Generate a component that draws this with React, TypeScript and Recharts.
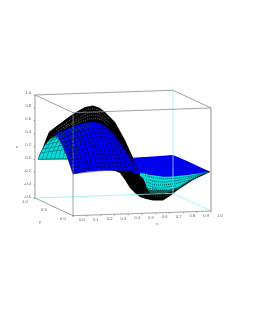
import { ComposedChart, XAxis, YAxis, Area, Line, Scatter } from "recharts";

// view of the box: x runs along the front edge, y goes back to the left
const project = (x: number, y: number, z: number) => ({
  u: 73 + 138 * x - 38 * y,
  v: 215.7 - 4.7 * x - 17.7 * y - 64.4 * (z + 0.6),
});

// near half of the peak (blue side)
const peakXs = [0, 0.03, 0.06, 0.09, 0.12, 0.15, 0.18, 0.21, 0.24, 0.27, 0.3, 0.33, 0.36, 0.39, 0.42, 0.45, 0.48];
const peakYs = [0, 0.029, 0.058, 0.087, 0.117, 0.149, 0.185, 0.221, 0.26, 0.306, 0.365, 0.5];
const peakZ = [
  [0.05, 0.055, 0.06, 0.065, 0.07, 0.075, 0.08, 0.08, 0.085, 0.085, 0.085, 0.08, 0.08, 0.075, 0.07, 0.065, 0.05],
  [0.09, 0.1, 0.107, 0.113, 0.12, 0.126, 0.133, 0.134, 0.14, 0.14, 0.14, 0.134, 0.131, 0.122, 0.111, 0.1, 0.077],
  [0.136, 0.144, 0.154, 0.161, 0.17, 0.178, 0.185, 0.189, 0.196, 0.196, 0.195, 0.187, 0.182, 0.17, 0.153, 0.134, 0.104],
  [0.18, 0.189, 0.2, 0.21, 0.22, 0.229, 0.238, 0.243, 0.251, 0.251, 0.25, 0.241, 0.233, 0.217, 0.194, 0.169, 0.131],
  [0.223, 0.233, 0.247, 0.258, 0.27, 0.28, 0.291, 0.298, 0.306, 0.306, 0.305, 0.294, 0.283, 0.264, 0.236, 0.204, 0.158],
  [0.266, 0.278, 0.294, 0.306, 0.32, 0.332, 0.343, 0.352, 0.362, 0.362, 0.36, 0.348, 0.334, 0.311, 0.277, 0.238, 0.185],
  [0.314, 0.327, 0.346, 0.359, 0.375, 0.389, 0.402, 0.413, 0.423, 0.423, 0.42, 0.407, 0.391, 0.364, 0.323, 0.277, 0.215],
  [0.357, 0.372, 0.393, 0.407, 0.425, 0.44, 0.454, 0.467, 0.479, 0.479, 0.475, 0.461, 0.442, 0.411, 0.364, 0.311, 0.242],
  [0.4, 0.416, 0.44, 0.456, 0.475, 0.491, 0.507, 0.522, 0.534, 0.534, 0.53, 0.514, 0.492, 0.458, 0.406, 0.346, 0.269],
  [0.444, 0.461, 0.486, 0.504, 0.525, 0.542, 0.56, 0.576, 0.589, 0.589, 0.585, 0.568, 0.543, 0.506, 0.447, 0.381, 0.296],
  [0.487, 0.505, 0.533, 0.552, 0.575, 0.594, 0.612, 0.631, 0.645, 0.645, 0.64, 0.621, 0.594, 0.553, 0.489, 0.415, 0.323],
  [0.53, 0.55, 0.58, 0.6, 0.625, 0.645, 0.665, 0.685, 0.7, 0.7, 0.695, 0.675, 0.645, 0.6, 0.53, 0.45, 0.35],
];

// far half seen past the x=0 end (cyan side)
const archXs = [0, 0.03, 0.06, 0.09, 0.12, 0.15, 0.18, 0.21, 0.24, 0.27];
const archYs = [0.92, 0.86, 0.8, 0.74, 0.68, 0.62, 0.56, 0.5];
const archZ = [
  [0.02, 0.02, 0.02, 0.02, 0.02, 0.02, 0.02, 0.02, 0.02, 0.02],
  [0.14, 0.146, 0.153, 0.158, 0.165, 0.171, 0.175, 0.182, 0.185, 0.185],
  [0.216, 0.225, 0.235, 0.244, 0.255, 0.264, 0.27, 0.281, 0.285, 0.285],
  [0.295, 0.307, 0.322, 0.333, 0.348, 0.36, 0.369, 0.384, 0.389, 0.389],
  [0.365, 0.38, 0.398, 0.412, 0.431, 0.445, 0.456, 0.475, 0.482, 0.482],
  [0.42, 0.437, 0.458, 0.475, 0.496, 0.512, 0.525, 0.546, 0.554, 0.554],
  [0.46, 0.478, 0.501, 0.52, 0.543, 0.561, 0.575, 0.598, 0.607, 0.607],
  [0.5, 0.52, 0.545, 0.565, 0.59, 0.61, 0.625, 0.65, 0.66, 0.66],
];

// outlines, as [across, upper, lower]
const darkOutline = [
  [38, 159, 159], [42, 150, 159], [46, 139, 159], [49, 132, 159], [54, 128, 159], [62, 122, 159], [70, 116, 160],
  [78, 111, 168], [85, 107, 168], [93, 105.5, 168], [100, 108, 168], [105, 112, 168],
  [115, 122, 171], [120, 131, 173], [125, 140, 180], [130, 151, 188], [135, 162, 193], [140, 171, 197],
  [146, 173, 199], [153, 174, 200.5], [163, 175, 200.5], [170, 175, 196], [177, 175, 190.5], [193, 174, 180], [210, 171.7, 172],
];
const peakOutline = [
  [54, 134, 134], [58, 132.5, 137], [61, 131, 142.5], [65, 130, 151], [68, 128.5, 159.3], [71, 127.2, 168],
  [73, 126.5, 174], [82, 123.5, 172.5], [88.5, 122, 171.5], [95, 122, 171], [102, 124, 170.5], [109, 129, 170.5],
  [116, 137, 170.5], [120, 143, 170.5], [130, 157.5, 171], [139, 172, 172.5],
];
const archOutline = [
  [38, 159.5, 159.5], [42, 150, 160], [45, 145, 160], [50, 139, 160], [55, 136, 160], [62, 132, 160], [68, 132, 160],
];
const flatOutline = [
  [133, 157.8, 173], [140, 157.3, 173], [145, 157, 173.5], [163, 155.7, 176.7], [173, 155, 176.4], [187, 161, 175], [210, 171.7, 171.7],
];
const troughOutline = [
  [140, 172, 176], [143, 173, 178], [147, 174, 187], [150, 175, 190], [167, 176, 190], [178, 175, 187], [193, 174, 178], [209, 172, 172],
];
const tealOutline = [
  [146, 182, 188], [150, 187, 193], [158, 188, 194], [167, 188, 193], [178, 185, 189], [190, 178, 181], [200, 175, 176],
];

const crestRows = [
  [[56, 130], [64, 124.5], [72, 118.5], [80, 113.5], [87, 110], [93, 108.5], [99, 110], [104, 114], [110, 120]],
  [[58, 131], [66, 126], [74, 121], [81, 116.5], [88, 113], [93, 112], [99, 113], [105, 118], [110, 124]],
  [[64, 128.5], [72, 124], [80, 119.5], [88, 116], [94, 115], [100, 116], [106, 121]],
  [[74, 125], [82, 121.5], [90, 119], [96, 118.5], [102, 120], [108, 125]],
];
const troughRows = [
  [[145, 175.5], [155, 178], [165, 179], [178, 178], [190, 176.5], [205, 173]],
  [[146, 179], [155, 181.5], [165, 182], [178, 180.5], [190, 178], [205, 173.5]],
  [[146.5, 182], [155, 185], [165, 185], [178, 183], [190, 180]],
  [[148, 185], [155, 188], [165, 187.5], [176, 185.5]],
  [[150, 188.5], [158, 190], [168, 189.5]],
];
const lowRows = [
  [[146, 192], [153, 196], [163, 196.5], [172, 193]],
  [[150, 192], [156, 194], [165, 193.5]],
];
const flatRows = [
  [[140, 160], [165, 159], [210, 171.7]],
  [[140, 164], [168, 163], [210, 171.7]],
  [[142, 168], [170, 167.5], [210, 171.7]],
];

const ticksZ = [1, 0.8, 0.6, 0.4, 0.2, 0, -0.2, -0.4, -0.6];
const ticksX = [0, 0.1, 0.2, 0.3, 0.4, 0.5, 0.6, 0.7, 0.8, 0.9, 1];
const ticksY = [1, 0.5, 0];

const toPoints = (rows: number[][]) => rows.map(([u, v]) => ({ u, v }));
const toBand = (rows: number[][]) => rows.map(([u, hi, lo]) => ({ u, band: [hi, lo] }));

const peakGrid = peakZ.map((row, j) => row.map((z, i) => project(peakXs[i], peakYs[j], z)));
const peakCols = peakXs.map((_, i) => peakZ.map((row, j) => project(peakXs[i], peakYs[j], row[i])));
const archGrid = archZ.map((row, j) => row.map((z, i) => project(archXs[i], archYs[j], z)));
const archCols = archXs.map((_, i) => archZ.map((row, j) => project(archXs[i], archYs[j], row[i])));

const corner = (x: number, y: number, z: number) => project(x, y, z);
const greyEdges = [
  [corner(0, 1, 1), corner(0, 0, 1)],
  [corner(0, 0, 1), corner(1, 0, 1)],
  [corner(0, 1, 1), corner(1, 1, 1)],
  [corner(1, 1, 1), corner(1, 0, 1)],
  [corner(0, 0, 1), corner(0, 0, -0.6)],
  [corner(0, 1, -0.6), corner(0, 0, -0.6)],
  [corner(0, 0, -0.6), corner(1, 0, -0.6)],
  [corner(0, 1, 1), corner(0, 1, -0.6)],
];
const cyanEdges = [
  [corner(1, 1, 1), corner(1, 1, -0.6)],
  [corner(0, 1, -0.6), corner(1, 1, -0.6)],
  [corner(1, 1, -0.6), corner(1, 0, -0.6)],
];
const rightEdge = [corner(1, 0, 1), corner(1, 0, -0.6)];

const fmt = (n: number) => n.toFixed(1);
const zLabels = ticksZ.map((t) => ({ ...project(0, 1, t), label: fmt(t) }));
const xLabels = ticksX.map((t) => ({ ...project(t, 0, -0.6), label: fmt(t) }));
const yLabels = ticksY.map((t) => ({ ...project(0, t, -0.6), label: fmt(t) }));
const zTitle = [{ ...project(0, 1, 0.2), label: "u" }];
const xTitle = [{ ...project(0.5, 0, -0.6), label: "x" }];
const yTitle = [{ ...project(0, 0.5, -0.6), label: "y" }];

const LABEL_FONT = "Liberation Sans, sans-serif";

const labelShape = (dx: number, dy: number, mark: number[] | null, anchor = "middle") => (p: any) => (
  <g>
    {mark && <line x1={p.cx} y1={p.cy} x2={p.cx + mark[0]} y2={p.cy + mark[1]} stroke="#777" strokeWidth={0.6} />}
    <text x={p.cx + dx} y={p.cy + dy} fontSize={4.2} fontFamily={LABEL_FONT} fill="#666" textAnchor={anchor}>
      {p.payload.label}
    </text>
  </g>
);

const line = (key: string, data: any[], stroke: string, width: number, dash?: string) => (
  <Line
    key={key}
    data={data}
    dataKey="v"
    stroke={stroke}
    strokeWidth={width}
    strokeDasharray={dash}
    dot={false}
    activeDot={false}
    legendType="none"
    isAnimationActive={false}
  />
);

const fill = (key: string, rows: number[][], color: string) => (
  <Area
    key={key}
    data={toBand(rows)}
    dataKey="band"
    type="linear"
    fill={color}
    fillOpacity={1}
    stroke="none"
    dot={false}
    activeDot={false}
    legendType="none"
    isAnimationActive={false}
  />
);

export default function App() {
  return (
    <div style={{ position: "absolute", left: 0, top: 0, width: 253, height: 327, background: "#fff", filter: "blur(0.3px)" }}>
      <ComposedChart width={253} height={327} margin={{ top: 0, right: 0, bottom: 0, left: 0 }}>
        <XAxis type="number" dataKey="u" domain={[0, 253]} hide allowDataOverflow />
        <YAxis type="number" domain={[0, 327]} reversed hide allowDataOverflow />

        {cyanEdges.map((e, i) => line(`cy${i}`, e, "#8ff5f5", 0.8))}
        {greyEdges.map((e, i) => line(`gr${i}`, e, i === 7 ? "#aaa" : "#8a8a8a", i === 7 ? 1.2 : 0.8))}
        {line("right", rightEdge, "#bbb", 1.6)}

        {fill("dark", darkOutline, "#000")}
        {crestRows.map((r, i) => line(`crest${i}`, toPoints(r), "#7a7a7a", 0.8, "1 1"))}
        {lowRows.map((r, i) => line(`low${i}`, toPoints(r), "#444", 0.8, "1 1"))}

        {fill("teal", tealOutline, "#0a5a5a")}
        {fill("trough", troughOutline, "#00dcdc")}
        {troughRows.map((r, i) => line(`tr${i}`, toPoints(r), "#022", 0.9, "1 1"))}

        {fill("flat", flatOutline, "#0000f0")}
        {flatRows.map((r, i) => line(`fl${i}`, toPoints(r), "#0000a8", 0.3))}

        {fill("arch", archOutline, "#00dede")}
        {archGrid.map((r, i) => line(`ar${i}`, r, "#044", 0.5))}
        {archCols.map((r, i) => line(`ac${i}`, r, "#044", 0.5))}

        {fill("peak", peakOutline, "#0000f8")}
        {peakGrid.map((r, i) => line(`pr${i}`, r, "#000030", 0.45))}
        {peakCols.map((r, i) => line(`pc${i}`, r, "#000030", 0.45))}

        <Scatter data={zLabels} dataKey="v" isAnimationActive={false} legendType="none" shape={labelShape(-4, -0.5, [-1.5, 0], "end")} />
        <Scatter data={xLabels} dataKey="v" isAnimationActive={false} legendType="none" shape={labelShape(9, 5.5, [0, 1.5])} />
        <Scatter data={yLabels} dataKey="v" isAnimationActive={false} legendType="none" shape={labelShape(-10, 4.5, [-1, 0.5])} />
        <Scatter data={zTitle} dataKey="v" isAnimationActive={false} legendType="none" shape={labelShape(-18, 2, null)} />
        <Scatter data={xTitle} dataKey="v" isAnimationActive={false} legendType="none" shape={labelShape(15, 12, null)} />
        <Scatter data={yTitle} dataKey="v" isAnimationActive={false} legendType="none" shape={labelShape(-14, 16, null)} />
      </ComposedChart>
    </div>
  );
}
